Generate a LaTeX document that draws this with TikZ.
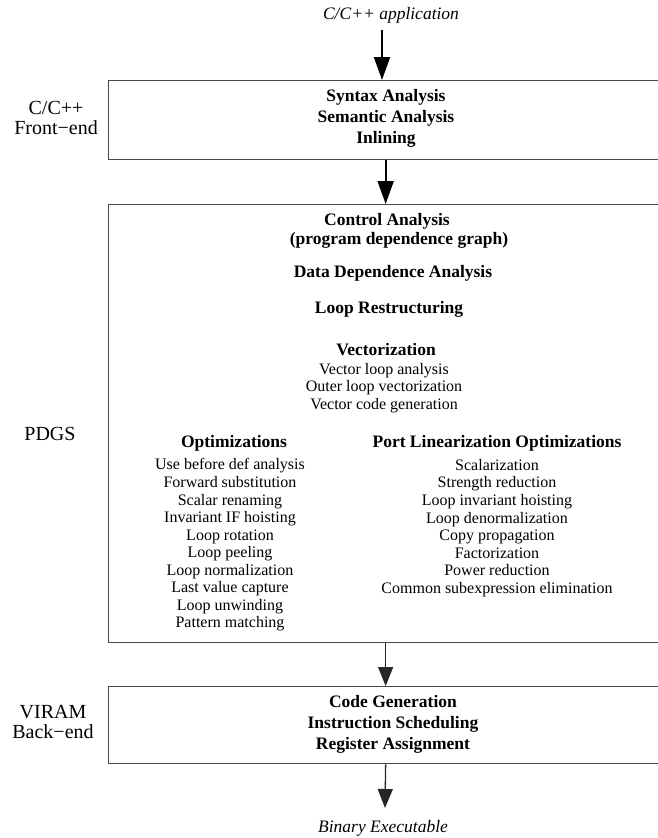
\documentclass[tikz,border=0pt]{standalone}
\usepackage{fontspec}
\setmainfont{Liberation Serif}
\usetikzlibrary{arrows.meta}
\begin{document}
\begin{tikzpicture}[x=1pt,y=-1pt,
  stage/.style={draw=black!72, line width=1.3pt, minimum width=554pt,
    minimum height=#1, anchor=north west, inner sep=0pt},
  head/.style={font=\fontsize{17.5}{21}\selectfont\bfseries, align=center, inner sep=0pt},
  item/.style={font=\fontsize{16}{17.55}\selectfont, align=center, inner sep=0pt},
  side/.style={font=\fontsize{20}{20.5}\selectfont, align=center, inner sep=0pt},
  io/.style={font=\fontsize{17.5}{21}\selectfont\itshape, inner sep=0pt},
  flow/.style={-{Triangle[length=23pt,width=16pt]}, line width=2pt},
  flowthin/.style={-{Triangle[length=19pt,width=15pt]}, line width=1.3pt, draw=black!85, fill=black}
]
\useasboundingbox (0,0) rectangle (657,838);

% pipeline stages (open towards the right margin)
\node[stage=79pt]  (b1) at (108,80)  {};
\node[stage=438pt] (b2) at (108,204) {};
\node[stage=77pt]  (b3) at (108,686) {};

% input / output
\node[io] (app) at (391,15) {C/C++ application};
\node[io] (bin) at (383,828) {Binary Executable};

% stage names on the left
\node[side] (fe)  at (56,118) {C/C++\\Front−end};
\node[side] (pd)  at (50,434) {PDGS};
\node[side] (be)  at (53,722) {VIRAM\\Back−end};

% front-end
\node[head] (fetxt) at (386,118) {Syntax Analysis\\Semantic Analysis\\Inlining};

% PDGS
\node[head] (ctrl) at (387,221) {Control Analysis};
\node[head] (pdg)  at (399,240) {(program dependence graph)};
\node[head] (dda)  at (393,273) {Data Dependence Analysis};
\node[head] (lr)   at (389,309) {Loop Restructuring};
\node[head] (vec)  at (386,350) {Vectorization};
\node[item] (vecl) at (384,388) {Vector loop analysis\\Outer loop vectorization\\Vector code generation};

\node[head] (opt)  at (234,443) {Optimizations};
\node[item] (optl) at (230,545) {Use before def analysis\\Forward substitution\\Scalar renaming\\Invariant IF hoisting\\Loop rotation\\Loop peeling\\Loop normalization\\Last value capture\\Loop unwinding\\Pattern matching};

\node[head] (plo)  at (497,443) {Port Linearization Optimizations};
\node[item] (plol) at (497,528) {Scalarization\\Strength reduction\\Loop invariant hoisting\\Loop denormalization\\Copy propagation\\Factorization\\Power reduction\\Common subexpression elimination};

% back-end
\node[head] (betxt) at (393,724) {Code Generation\\Instruction Scheduling\\Register Assignment};

% flow between stages
\coordinate (src) at (382,30);
\coordinate (dst) at (385,808);
\draw[flow] (src) -- (src |- b1.north);
\draw[flow] (b1.south) -- (b2.north);
\draw[flowthin] (b2.south) -- (b3.north);
\draw[flowthin] (b3.south) -- (dst);
\end{tikzpicture}
\end{document}
